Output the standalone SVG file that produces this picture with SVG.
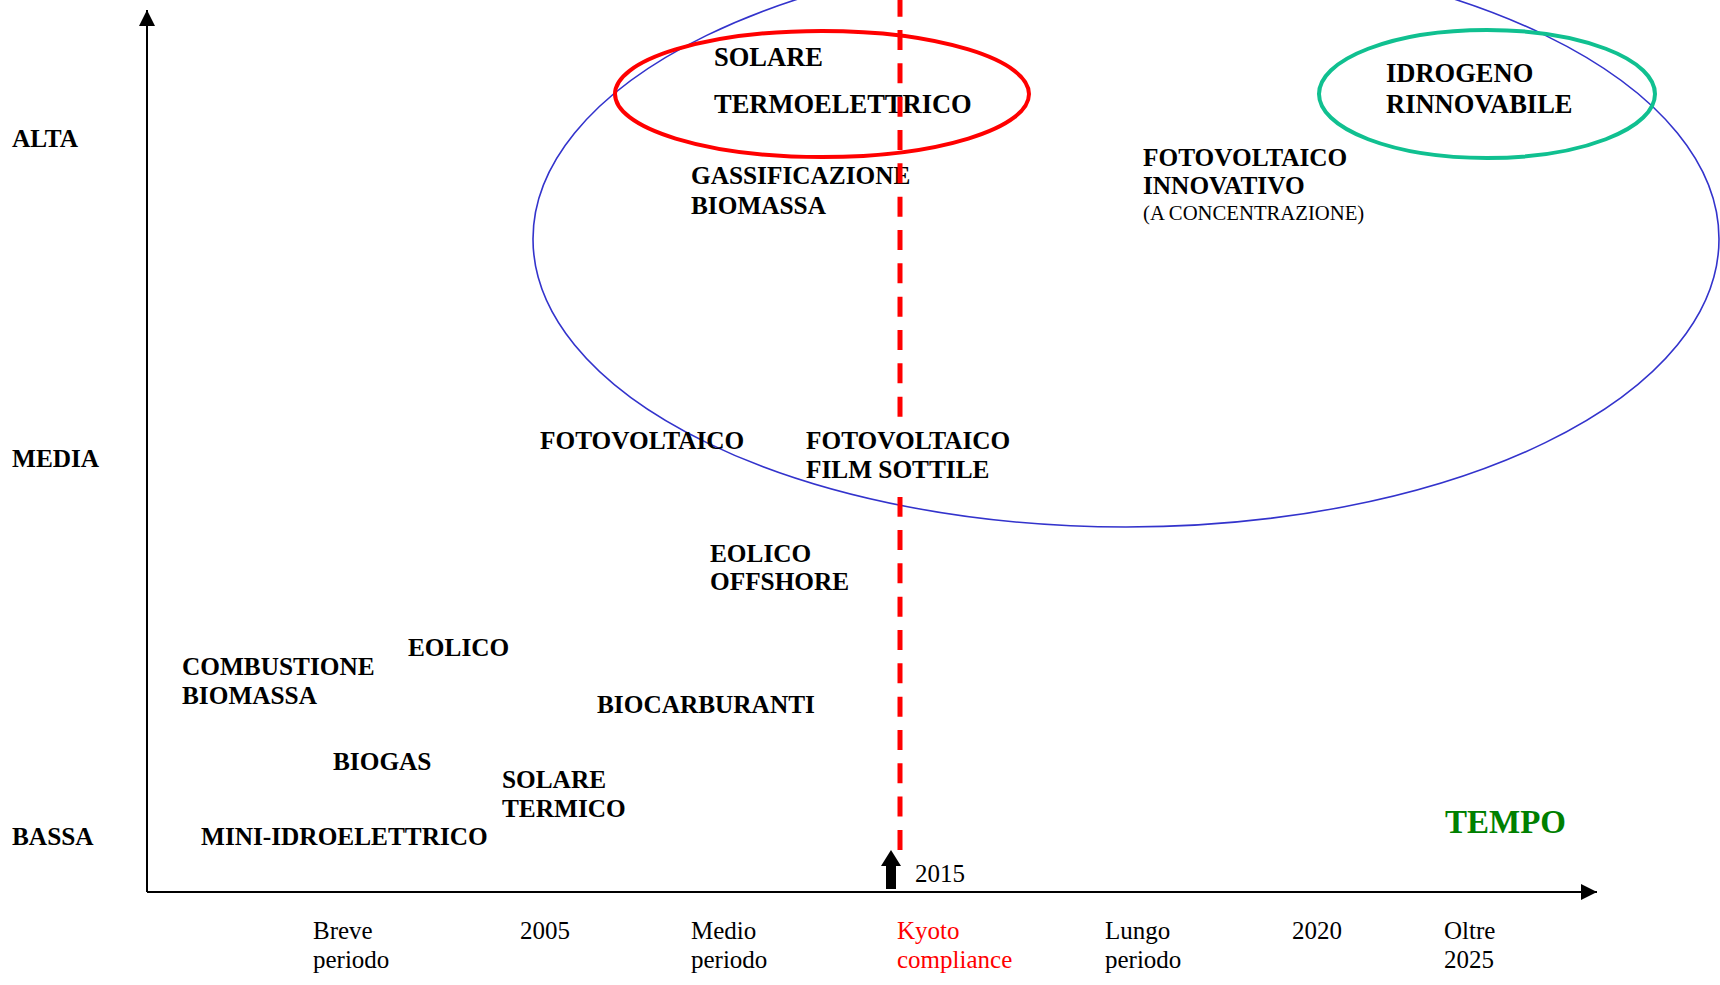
<svg xmlns="http://www.w3.org/2000/svg" width="1720" height="985" viewBox="0 0 1720 985">
<style>
.b{font-family:"Liberation Serif","Times New Roman",serif;font-weight:bold;font-size:25.3px;fill:#000}
.bl{font-family:"Liberation Serif","Times New Roman",serif;font-weight:bold;font-size:26.5px;fill:#000}
.r{font-family:"Liberation Serif","Times New Roman",serif;font-size:25px;fill:#000}
.axis{stroke:#000;stroke-width:2;fill:none}
</style>
<defs>
<marker id="ah" viewBox="0 0 16 16" refX="16" refY="8" markerWidth="16" markerHeight="16" markerUnits="userSpaceOnUse" orient="auto">
<path d="M0,0 L16,8 L0,16 Z" fill="#000"/>
</marker>
</defs>
<rect width="1720" height="985" fill="#fff"/>
<g id="connectors">
<line class="axis" x1="147" y1="892" x2="147" y2="10" marker-end="url(#ah)"/>
<line class="axis" x1="147" y1="892" x2="1597" y2="892" marker-end="url(#ah)"/>
</g>
<g id="ellipses">
<ellipse id="blue-region" cx="1126" cy="239" rx="593" ry="288" fill="none" stroke="#3333cc" stroke-width="1.6"/>
<ellipse id="red-region" cx="822" cy="94" rx="207" ry="63" fill="none" stroke="#ff0000" stroke-width="4"/>
<ellipse id="green-region" cx="1487" cy="94" rx="168" ry="64" fill="none" stroke="#10c090" stroke-width="4"/>
</g>
<g id="axis-labels">
<text class="b" x="12" y="147">ALTA</text>
<text class="b" x="12" y="467">MEDIA</text>
<text class="b" x="12" y="845">BASSA</text>
</g>
<g id="n-solare-termoelettrico"><text class="bl" x="714" y="66">SOLARE</text><text class="bl" x="714" y="113">TERMOELETTRICO</text></g>
<g id="n-idrogeno"><text class="bl" x="1386" y="82">IDROGENO</text><text class="bl" x="1386" y="113">RINNOVABILE</text></g>
<g id="n-gassificazione"><text class="b" x="691" y="184">GASSIFICAZIONE</text><text class="b" x="691" y="214">BIOMASSA</text></g>
<g id="n-fv-innovativo"><text class="b" x="1143" y="166">FOTOVOLTAICO</text><text class="b" x="1143" y="194">INNOVATIVO</text><text class="r" x="1143" y="220" style="font-size:20.7px">(A CONCENTRAZIONE)</text></g>
<g id="n-fotovoltaico"><text class="b" x="540" y="449">FOTOVOLTAICO</text></g>
<g id="n-eolico-offshore"><text class="b" x="710" y="562">EOLICO</text><text class="b" x="710" y="590">OFFSHORE</text></g>
<g id="n-eolico"><text class="b" x="408" y="656">EOLICO</text></g>
<g id="n-combustione"><text class="b" x="182" y="675">COMBUSTIONE</text><text class="b" x="182" y="704">BIOMASSA</text></g>
<g id="n-biocarburanti"><text class="b" x="597" y="713">BIOCARBURANTI</text></g>
<g id="n-biogas"><text class="b" x="333" y="770">BIOGAS</text></g>
<g id="n-solare-termico"><text class="b" x="502" y="788">SOLARE</text><text class="b" x="502" y="817">TERMICO</text></g>
<g id="n-mini-idro"><text class="b" x="201" y="845">MINI-IDROELETTRICO</text></g>
<g id="kyoto-line">
<line x1="900" y1="-3.3" x2="900" y2="850" stroke="#ff0000" stroke-width="5" stroke-dasharray="20 13.33"/>
<path d="M891,850 L901,866 L896,866 L896,889 L886,889 L886,866 L881,866 Z" fill="#000"/>
<text class="r" x="915" y="882">2015</text>
</g>
<g id="n-fv-film">
<rect x="890" y="419" width="20" height="78" fill="#fff"/>
<text class="b" x="806" y="449">FOTOVOLTAICO</text><text class="b" x="806" y="478">FILM SOTTILE</text>
</g>
<g id="time-labels">
<text class="r" x="313" y="939">Breve</text><text class="r" x="313" y="968">periodo</text>
<text class="r" x="520" y="939">2005</text>
<text class="r" x="691" y="939">Medio</text><text class="r" x="691" y="968">periodo</text>
<text class="r" x="897" y="939" style="fill:#ff0000">Kyoto</text><text class="r" x="897" y="968" style="fill:#ff0000">compliance</text>
<text class="r" x="1105" y="939">Lungo</text><text class="r" x="1105" y="968">periodo</text>
<text class="r" x="1292" y="939">2020</text>
<text class="r" x="1444" y="939">Oltre</text><text class="r" x="1444" y="968">2025</text>
<text class="b" x="1445" y="833" style="font-size:33px;fill:#008000">TEMPO</text>
</g>
</svg>
